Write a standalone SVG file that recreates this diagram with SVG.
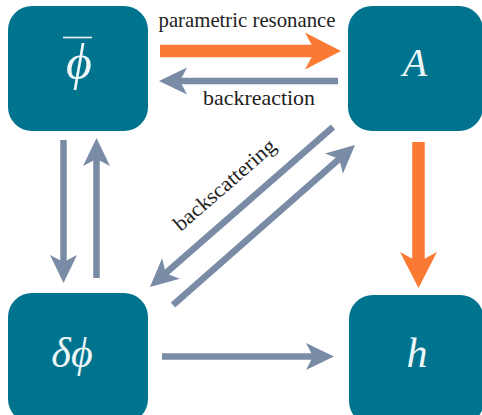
<svg xmlns="http://www.w3.org/2000/svg" width="482" height="415" viewBox="0 0 482 415">
<defs>
<marker id="hg" markerUnits="userSpaceOnUse" markerWidth="30" markerHeight="30" refX="8" refY="0" orient="auto" overflow="visible">
<path d="M28,0 L0,-13.5 L7,0 L0,13.5 Z" fill="#7a8ca5"/>
</marker>
<marker id="ho" markerUnits="userSpaceOnUse" markerWidth="40" markerHeight="40" refX="11" refY="0" orient="auto" overflow="visible">
<path d="M36,0 L0,-18.5 L10,0 L0,18.5 Z" fill="#fb7a33"/>
</marker>
</defs>
<rect width="482" height="415" fill="#fff"/>
<g id="connectors" fill="none">
<g stroke="#fb7a33" stroke-width="12.5" marker-end="url(#ho)">
<line x1="160" y1="51" x2="316" y2="51"/>
<line x1="418.5" y1="142" x2="418.5" y2="263"/>
</g>
<g stroke="#7a8ca5" stroke-width="6.5" marker-end="url(#hg)">
<line x1="338" y1="81" x2="179" y2="81"/>
<line x1="63.5" y1="140" x2="63.5" y2="263"/>
<line x1="96.5" y1="278" x2="96.5" y2="158"/>
<line x1="162" y1="356.5" x2="314" y2="356.5"/>
<line x1="333" y1="127" x2="165" y2="273.8"/>
<line x1="173" y1="305" x2="340" y2="158.3"/>
</g>
<g font-family="Liberation Serif" font-size="21" fill="#222" text-anchor="middle">
<text x="247" y="27" textLength="177" lengthAdjust="spacingAndGlyphs">parametric resonance</text>
<text x="259" y="105" textLength="112" lengthAdjust="spacingAndGlyphs">backreaction</text>
<text transform="translate(229,190) rotate(-41)" textLength="128" lengthAdjust="spacingAndGlyphs">backscattering</text>
</g>
</g>
<g font-family="Liberation Serif" font-style="italic" fill="#eef6f8" text-anchor="middle">
<g id="node-phibar">
<rect fill="#00748f" x="8" y="6" width="140" height="125" rx="24"/>
<line x1="63" y1="37.5" x2="92" y2="37.5" stroke="#eef6f8" stroke-width="1.6"/>
<text x="79" y="79" font-size="50">ϕ</text>
</g>
<g id="node-A">
<rect fill="#00748f" x="348" y="6" width="135" height="125" rx="24"/>
<text x="415" y="76" font-size="40">A</text>
</g>
<g id="node-dphi">
<rect fill="#00748f" x="8" y="293" width="140" height="130" rx="24"/>
<text x="72" y="367" font-size="42">δϕ</text>
</g>
<g id="node-h">
<rect fill="#00748f" x="349" y="295" width="135" height="130" rx="24"/>
<text x="417" y="367" font-size="42">h</text>
</g>
</g>
</svg>
